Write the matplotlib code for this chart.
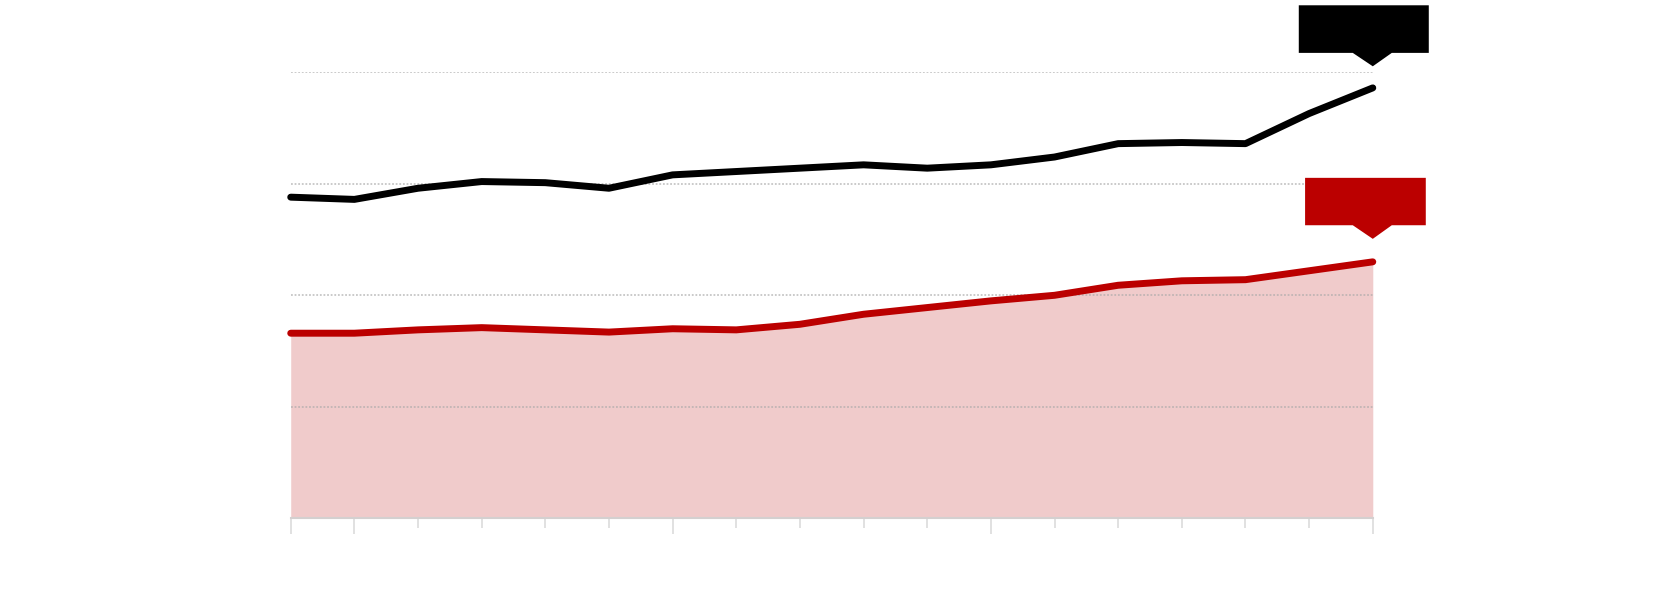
import matplotlib
matplotlib.use("Agg")
import matplotlib.pyplot as plt
import matplotlib.transforms as mtransforms
from matplotlib.patches import Polygon

# data (units = gridline steps)
years = list(range(2005, 2023))
black_vals = [2.88, 2.86, 2.96, 3.02, 3.01, 2.96, 3.08, 3.11, 3.14, 3.17,
              3.14, 3.17, 3.24, 3.36, 3.37, 3.36, 3.63, 3.86]
red_vals = [1.66, 1.66, 1.69, 1.71, 1.69, 1.67, 1.70, 1.69, 1.74, 1.83,
            1.89, 1.95, 2.00, 2.09, 2.13, 2.14, 2.22, 2.30]
long_tick_years = [2005, 2006, 2011, 2016, 2022]
grid_levels = [1, 2, 3, 4]

RED = "#bb0000"
FILL = "#f0cbcb"

fig = plt.figure(figsize=(16.66, 5.9), dpi=100)
ax = fig.add_axes([0.1745, 0.1215, 0.6495, 0.756])
ax.set_xlim(years[0], years[-1])
ax.set_ylim(0, 4)

ax.fill_between(years, 0, red_vals, color=FILL, lw=0, zorder=1)
ax.hlines(grid_levels, years[0], years[-1], colors="#a8a8a8", alpha=0.65,
          linestyles=(0, (1, 1)), lw=1.3, zorder=2)
ax.plot(years, black_vals, color="black", lw=5, solid_capstyle="round",
        solid_joinstyle="round", clip_on=False, zorder=4)
ax.plot(years, red_vals, color=RED, lw=5, solid_capstyle="round",
        solid_joinstyle="round", clip_on=False, zorder=4)

for s in ["top", "right", "left"]:
    ax.spines[s].set_visible(False)
ax.spines["bottom"].set_color("#d4d0d0")
ax.spines["bottom"].set_linewidth(1.5)
ax.set_yticks([])
ax.set_xticks(long_tick_years)
ax.set_xticks([y for y in years if y not in long_tick_years], minor=True)
ax.tick_params(axis="x", which="major", length=11.5, width=1.1, color="#d8d8d8",
               labelbottom=False)
ax.tick_params(axis="x", which="minor", length=7.2, width=1.1, color="#d8d8d8")

# callout boxes above the last points (pixel offsets)
fig.canvas.draw()
def callout(yval, color, left, right, base, top, tip):
    px, py = ax.transData.transform((years[-1], yval))
    pts = [(left, base), (left, top), (right, top), (right, base),
           (19, base), (0, tip), (-20, base)]
    verts = [(px + dx, py + dy) for dx, dy in pts]
    fig.patches.append(Polygon(verts, closed=True, facecolor=color,
                               edgecolor="none",
                               transform=mtransforms.IdentityTransform(),
                               figure=fig))

callout(black_vals[-1], "black", -74, 56, 35, 82.6, 21.6)
callout(red_vals[-1], RED, -67.7, 53, 36.6, 84, 23)

fig.savefig("out.png", dpi=100, facecolor="white")
